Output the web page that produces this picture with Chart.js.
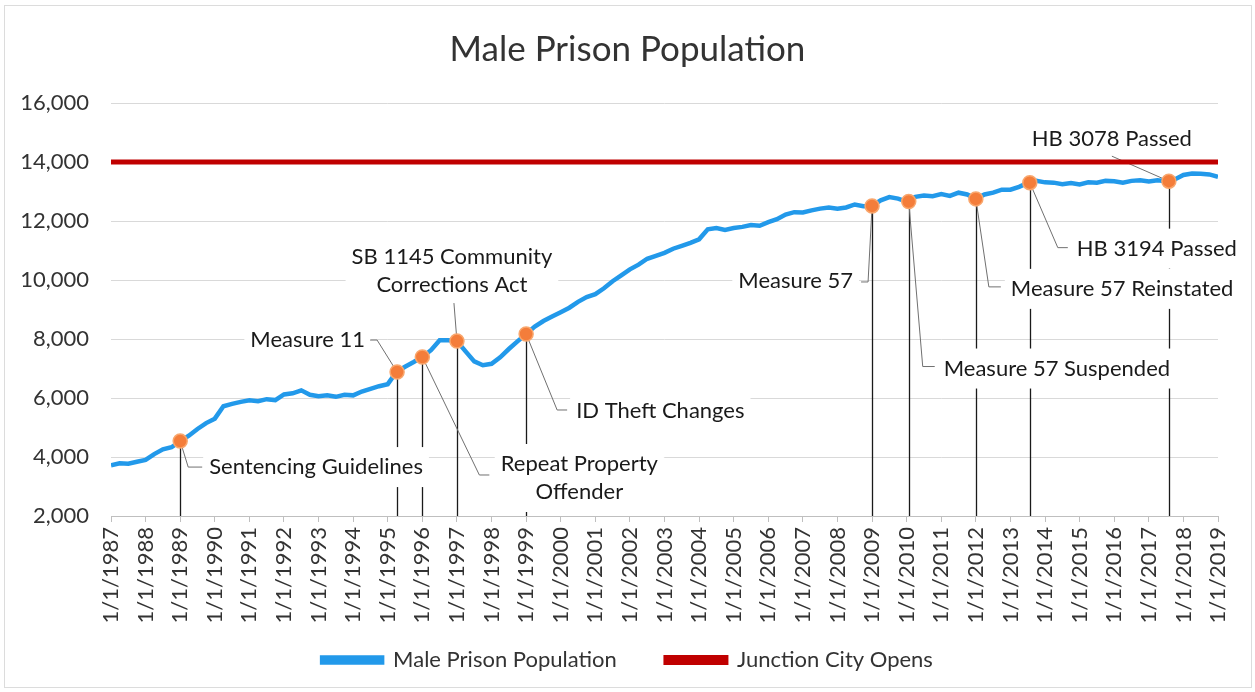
<!DOCTYPE html>
<html>
<head>
<meta charset="utf-8">
<title>Male Prison Population</title>
<script src="https://cdn.jsdelivr.net/npm/chart.js@4.4.1/dist/chart.umd.min.js"></script>
<style>
  html, body { margin: 0; padding: 0; background: #fff; }
  #wrap { width: 1255px; height: 692px; }
</style>
</head>
<body>
<div id="wrap"><canvas id="prisonChart" width="1255" height="692"></canvas></div>
<script>
// Quarterly male inmate counts (Jan, Apr, Jul, Oct) from 1/1/1987 to 1/1/2019
const malePopulation = [
  3720, 3790, 3770, 3840,   // 1987
  3900, 4100, 4260, 4330,   // 1988
  4540, 4720, 4950, 5150,   // 1989
  5300, 5720, 5800, 5870,   // 1990
  5920, 5890, 5960, 5930,   // 1991
  6120, 6160, 6260, 6110,   // 1992
  6060, 6090, 6040, 6110,   // 1993
  6090, 6220, 6310, 6400,   // 1994
  6470, 6880, 7060, 7220,   // 1995
  7390, 7620, 7960, 7960,   // 1996
  7930, 7580, 7240, 7110,   // 1997
  7160, 7380, 7660, 7920,   // 1998
  8170, 8420, 8610, 8760,   // 1999
  8910, 9060, 9260, 9420,   // 2000
  9520, 9720, 9960, 10160,  // 2001
  10360, 10520, 10720, 10820, // 2002
  10920, 11060, 11160, 11260, // 2003
  11380, 11720, 11760, 11700, // 2004
  11760, 11800, 11860, 11840, // 2005
  11960, 12060, 12220, 12300, // 2006
  12290, 12360, 12420, 12460, // 2007
  12420, 12460, 12560, 12500, // 2008
  12510, 12700, 12810, 12760, // 2009
  12660, 12820, 12860, 12840, // 2010
  12910, 12850, 12960, 12900, // 2011
  12750, 12900, 12960, 13060, // 2012
  13060, 13160, 13290, 13360, // 2013
  13310, 13300, 13250, 13290, // 2014
  13240, 13310, 13300, 13360, // 2015
  13350, 13300, 13360, 13380, // 2016
  13340, 13380, 13350, 13410, // 2017
  13560, 13610, 13600, 13580, // 2018
  13500                       // 2019
];
const startYear = 1987;
const endYear = 2019;
const junctionCityCapacity = 14000;

const yTicks = [2000, 4000, 6000, 8000, 10000, 12000, 14000, 16000];

// policy events marked on the line
const eventNames = [
  ['Sentencing Guidelines'],
  ['Measure 11'],
  ['Repeat Property', 'Offender'],
  ['SB 1145 Community', 'Corrections Act'],
  ['ID Theft Changes'],
  ['Measure 57'],
  ['Measure 57 Suspended'],
  ['Measure 57 Reinstated'],
  ['HB 3194 Passed'],
  ['HB 3078 Passed']
];
const eventDates = [1989.0, 1995.27, 1996.0, 1997.0, 1999.0, 2009.0, 2010.06, 2012.0, 2013.56, 2017.58];
const eventValues = [4540, 6880, 7390, 7930, 8170, 12510, 12660, 12750, 13300, 13350];

// where each callout sits, in pixels relative to its dot
const calloutLayout = [
  { text: [29, 26], align: 'left', leader: [[8, 26], [22, 26]] },
  { text: [-32, -32], align: 'right', leader: [[-20, -32], [-27, -32]] },
  { text: [157, 107], align: 'center', leader: [[57, 118], [67, 118]] },
  { text: [-5, -84], align: 'center', leader: [[-3, -38]] },
  { text: [50, 77], align: 'left', leader: [[31, 76], [41, 76]] },
  { text: [-19, 75], align: 'right', leader: [[-4, 76], [-11, 76]] },
  { text: [35, 167], align: 'left', leader: [[14, 165], [26, 165]] },
  { text: [35, 90], align: 'left', leader: [[13, 88], [25, 88]] },
  { text: [47, 66], align: 'left', leader: [[28, 65], [38, 65]] },
  { text: [-57, -42], align: 'center', leader: [[-57, -25]] }
];

const FONT = 'Lato, "Open Sans", sans-serif';

const populationPoints = malePopulation.map((v, i) => ({ x: startYear + i / 4, y: v }));
const capacityPoints = [{ x: startYear, y: junctionCityCapacity }, { x: endYear, y: junctionCityCapacity }];
const eventPoints = eventDates.map((d, i) => ({ x: d, y: eventValues[i] }));

// frame + white page
const pageFrame = {
  id: 'pageFrame',
  beforeDraw(chart) {
    const ctx = chart.ctx;
    ctx.save();
    ctx.fillStyle = '#fff';
    ctx.fillRect(0, 0, chart.width, chart.height);
    ctx.strokeStyle = '#dcdcdc';
    ctx.lineWidth = 1;
    ctx.strokeRect(4.5, 5.5, chart.width - 8, chart.height - 10);
    ctx.restore();
  }
};

// drop lines, callout boxes, leaders and text
const eventCallouts = {
  id: 'eventCallouts',
  beforeDatasetsDraw(chart) {
    const ctx = chart.ctx;
    const xs = chart.scales.x, ys = chart.scales.y;
    const base = ys.getPixelForValue(yTicks[0]);
    const lineH = 28;
    ctx.save();

    ctx.strokeStyle = '#1a1a1a';
    ctx.lineWidth = 1.3;
    eventDates.forEach((d, i) => {
      const px = Math.round(xs.getPixelForValue(d)) + 0.5;
      ctx.beginPath();
      ctx.moveTo(px, ys.getPixelForValue(eventValues[i]));
      ctx.lineTo(px, base);
      ctx.stroke();
    });

    ctx.font = '22px ' + FONT;
    ctx.textBaseline = 'middle';

    // white boxes hide the grid and drop lines behind the text
    ctx.fillStyle = '#fff';
    eventNames.forEach((lines, i) => {
      const lay = calloutLayout[i];
      const px = xs.getPixelForValue(eventDates[i]);
      const py = ys.getPixelForValue(eventValues[i]);
      const w = Math.max(...lines.map(l => ctx.measureText(l).width));
      const tx = px + lay.text[0], ty = py + lay.text[1];
      let left = tx;
      if (lay.align === 'right') left = tx - w;
      if (lay.align === 'center') left = tx - w / 2;
      const top = ty - lineH / 2;
      ctx.fillRect(left - 6, top - 6, w + 12, lines.length * lineH + 12);
    });

    ctx.strokeStyle = '#707070';
    ctx.lineWidth = 1;
    eventNames.forEach((lines, i) => {
      const lay = calloutLayout[i];
      const px = xs.getPixelForValue(eventDates[i]);
      const py = ys.getPixelForValue(eventValues[i]);
      ctx.beginPath();
      ctx.moveTo(px, py);
      lay.leader.forEach(p => ctx.lineTo(px + p[0], py + p[1]));
      ctx.stroke();
    });

    ctx.fillStyle = '#1a1a1a';
    eventNames.forEach((lines, i) => {
      const lay = calloutLayout[i];
      const px = xs.getPixelForValue(eventDates[i]);
      const py = ys.getPixelForValue(eventValues[i]);
      ctx.textAlign = lay.align;
      lines.forEach((l, k) => ctx.fillText(l, px + lay.text[0], py + lay.text[1] + k * lineH));
    });
    ctx.restore();
  }
};

new Chart(document.getElementById('prisonChart').getContext('2d'), {
  type: 'line',
  data: {
    datasets: [
      {
        label: 'Male Prison Population',
        data: populationPoints,
        borderColor: '#2299ea',
        backgroundColor: '#2299ea',
        borderWidth: 4.5,
        pointRadius: 0,
        tension: 0,
        order: 2
      },
      {
        label: 'Junction City Opens',
        data: capacityPoints,
        borderColor: '#c00000',
        backgroundColor: '#c00000',
        borderWidth: 5,
        pointRadius: 0,
        order: 3
      },
      {
        label: 'events',
        data: eventPoints,
        showLine: false,
        pointRadius: 7,
        pointHoverRadius: 7,
        pointBackgroundColor: '#f47d3a',
        pointBorderColor: '#f9a66c',
        pointBorderWidth: 1.5,
        order: 1
      }
    ]
  },
  options: {
    responsive: false,
    animation: false,
    layout: { padding: { left: 0, right: 0, top: 0, bottom: 11 } },
    plugins: {
      title: {
        display: true,
        text: 'Male Prison Population',
        color: '#333',
        font: { family: FONT, size: 35, weight: 'normal' },
        padding: { top: 29, bottom: 32 }
      },
      legend: {
        position: 'bottom',
        labels: {
          color: '#333',
          font: { family: FONT, size: 22 },
          boxWidth: 60,
          boxHeight: 5,
          padding: 21,
          generateLabels: chart => {
            const items = Chart.defaults.plugins.legend.labels.generateLabels(chart)
              .filter(item => item.datasetIndex !== 2);
            // widen the gap between the two entries
            items.forEach(item => { if (item.datasetIndex === 0) item.text += '     '; });
            return items;
          }
        }
      },
      tooltip: { enabled: false }
    },
    scales: {
      x: {
        type: 'linear',
        min: startYear,
        max: endYear,
        afterFit: scale => { scale.height = 112; },
        ticks: {
          stepSize: 1,
          autoSkip: false,
          minRotation: 90,
          maxRotation: 90,
          padding: 5,
          color: '#333',
          font: { family: FONT, size: 22 },
          callback: v => '1/1/' + v
        },
        grid: { drawOnChartArea: false, drawTicks: true, tickLength: 6, color: '#bfbfbf' },
        border: { display: true, color: '#bfbfbf' }
      },
      y: {
        min: yTicks[0],
        max: yTicks[yTicks.length - 1],
        afterFit: scale => { scale.width = 111; },
        afterBuildTicks: scale => { scale.ticks = yTicks.map(v => ({ value: v })); },
        ticks: {
          padding: 22,
          color: '#333',
          font: { family: FONT, size: 22 },
          callback: v => v.toLocaleString('en-US')
        },
        grid: { color: '#d9d9d9', drawTicks: false },
        border: { display: false }
      },
      // empty right-hand axis: keeps the plot off the right edge while title and legend stay centred
      yRight: {
        position: 'right',
        afterFit: scale => { scale.width = 37; },
        ticks: { display: false },
        grid: { display: false },
        border: { display: false }
      }
    }
  },
  plugins: [pageFrame, eventCallouts]
});
</script>
</body>
</html>
